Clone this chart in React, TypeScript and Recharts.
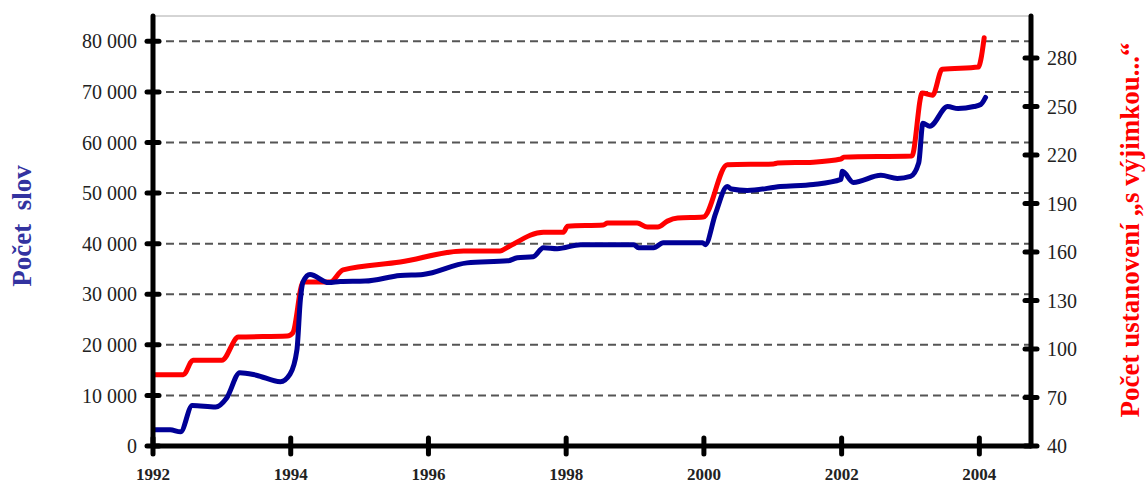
import React from 'react';
import { LineChart, Line, XAxis, YAxis, CartesianGrid, ReferenceLine } from 'recharts';

// Počet slov (left axis)
const wordYears = [
  1992.0, 1992.25, 1992.4, 1992.57, 1992.91, 1993.07, 1993.26, 1993.5, 1993.85, 1993.99,
  1994.09, 1994.14, 1994.18, 1994.28, 1994.55, 1994.72, 1995.08, 1995.59, 1995.92, 1996.56,
  1997.15, 1997.29, 1997.52, 1997.67, 1997.87, 1998.21, 1998.98, 1999.05, 1999.27, 1999.41,
  1999.98, 2000.02, 2000.17, 2000.34, 2000.4, 2000.63, 2001.11, 2001.59, 2001.99, 2002.01,
  2002.17, 2002.57, 2002.81, 2003.0, 2003.12, 2003.18, 2003.28, 2003.54, 2003.69, 2003.92,
  2004.02, 2004.09,
];
const wordCounts = [
  3200, 3200, 2800, 8000, 7700, 9500, 14500, 14000, 12700, 14200,
  19000, 28900, 32500, 33900, 32300, 32500, 32600, 33700, 33900, 36200,
  36600, 37200, 37400, 39200, 39000, 39800, 39800, 39200, 39200, 40200,
  40200, 39800, 46000, 51300, 50800, 50500, 51300, 51700, 52700, 54300,
  52100, 53500, 52900, 53300, 56000, 63800, 63200, 67100, 66700, 67100,
  67500, 68900,
];

// Počet ustanovení (right axis)
const provisionYears = [
  1992.0, 1992.44, 1992.58, 1993.0, 1993.24, 1993.95, 1994.03, 1994.18, 1994.57, 1994.76,
  1995.59, 1996.51, 1997.04, 1997.15, 1997.67, 1997.96, 1998.02, 1998.54, 1998.6, 1999.03,
  1999.18, 1999.33, 1999.47, 1999.62, 1999.99, 2000.34, 2001.01, 2001.07, 2001.59, 2001.99,
  2002.03, 2003.02, 2003.17, 2003.32, 2003.46, 2003.99, 2004.02, 2004.07,
];
const provisionCounts = [
  84, 84, 93, 93, 107.4, 108, 110, 141.4, 141.4, 149,
  153.8, 160.6, 160.6, 163, 172.3, 172.3, 176, 176.7, 177.9, 177.9,
  175.4, 175.4, 179.1, 181, 181.6, 214, 214.5, 215, 215.6, 217.5,
  218.7, 219.4, 258.3, 257, 273, 274.4, 278.7, 292.5,
];

const yearTicks = [1992, 1994, 1996, 1998, 2000, 2002, 2004];
const wordTicks = [0, 10000, 20000, 30000, 40000, 50000, 60000, 70000, 80000];
const provisionTicks = [40, 70, 100, 130, 160, 190, 220, 250, 280];

const table = Array.from(new Set([...wordYears, ...provisionYears]))
  .sort((a, b) => a - b)
  .map((year) => {
    const wi = wordYears.indexOf(year);
    const pi = provisionYears.indexOf(year);
    return {
      year,
      words: wi >= 0 ? wordCounts[wi] : null,
      provisions: pi >= 0 ? provisionCounts[pi] : null,
    };
  });

const serif = "'Liberation Serif', 'Times New Roman', serif";

const fmtThousands = (v: number) =>
  v === 0 ? '0' : `${Math.floor(v / 1000)} ${String(v % 1000).padStart(3, '0')}`;

const LeftTick = ({ x, y, payload }: any) => (
  <g>
    <line x1={x - 6} x2={x + 6} y1={y} y2={y} stroke="#000" strokeWidth={5} strokeLinecap="round" />
    <text x={x - 16} y={y} dy="0.36em" textAnchor="end" fontFamily={serif} fontSize={20} fill="#222">
      {fmtThousands(payload.value)}
    </text>
  </g>
);

const RightTick = ({ x, y, payload }: any) => (
  <g>
    <line x1={x - 6} x2={x + 6} y1={y} y2={y} stroke="#000" strokeWidth={5} strokeLinecap="round" />
    <text x={x + 16} y={y} dy="0.36em" textAnchor="start" fontFamily={serif} fontSize={20} fill="#222">
      {payload.value}
    </text>
  </g>
);

const BottomTick = ({ x, y, payload }: any) => (
  <g>
    <line x1={x} x2={x} y1={y - 8} y2={y + 8} stroke="#000" strokeWidth={5} strokeLinecap="round" />
    <text x={x} y={y + 34} textAnchor="middle" fontFamily={serif} fontSize={17} fontWeight="bold" fill="#222">
      {payload.value}
    </text>
  </g>
);

const AxisTitle = ({ viewBox, text, color, offsetX, offsetY, size }: any) => {
  const vb = viewBox || { x: 0, y: 0, width: 0, height: 0 };
  const cx = vb.x + offsetX;
  const cy = vb.y + vb.height / 2 + offsetY;
  return (
    <text
      x={cx}
      y={cy}
      transform={`rotate(-90, ${cx}, ${cy})`}
      textAnchor="middle"
      fontFamily={serif}
      fontWeight="bold"
      fontSize={size}
      fill={color}
      style={{ whiteSpace: 'pre' }}
    >
      {text}
    </text>
  );
};

export default function App() {
  return (
    <div style={{ position: 'absolute', left: 0, top: 0, width: 1146, height: 484, background: '#fff' }}>
      <LineChart width={1146} height={484} data={table} margin={{ top: 16, right: 0, bottom: 0, left: 0 }}>
        <CartesianGrid
          yAxisId="left"
          vertical={false}
          horizontalValues={wordTicks}
          stroke="#555"
          strokeWidth={2}
          strokeDasharray="8 5"
        />
        <XAxis
          dataKey="year"
          type="number"
          domain={[1992, 2004.75]}
          ticks={yearTicks}
          allowDataOverflow
          height={38}
          tickSize={0}
          tickMargin={0}
          tick={<BottomTick />}
          tickLine={false}
          axisLine={{ stroke: '#000', strokeWidth: 5 }}
        />
        <YAxis
          yAxisId="left"
          orientation="left"
          width={153}
          domain={[0, 85000]}
          ticks={wordTicks}
          allowDataOverflow
          tickSize={0}
          tickMargin={0}
          tick={<LeftTick />}
          tickLine={false}
          axisLine={{ stroke: '#000', strokeWidth: 5, strokeLinecap: 'round' }}
          label={<AxisTitle text={'Počet  slov'} color="#3333a0" offsetX={31} offsetY={-5} size={27} />}
        />
        <YAxis
          yAxisId="right"
          orientation="right"
          width={115}
          domain={[40, 306]}
          ticks={provisionTicks}
          allowDataOverflow
          tickSize={0}
          tickMargin={0}
          tick={<RightTick />}
          tickLine={false}
          axisLine={{ stroke: '#000', strokeWidth: 5, strokeLinecap: 'round' }}
          label={
            <AxisTitle
              text={'Počet ustanovení „s výjimkou...“'}
              color="#ff0000"
              offsetX={108}
              offsetY={-1}
              size={27}
            />
          }
        />
        <ReferenceLine yAxisId="left" y={85000} stroke="#aaa" strokeWidth={1} />
        <Line
          yAxisId="right"
          type="monotone"
          dataKey="provisions"
          stroke="#ff0000"
          strokeWidth={5}
          strokeLinecap="round"
          strokeLinejoin="round"
          dot={false}
          activeDot={false}
          connectNulls
          isAnimationActive={false}
        />
        <Line
          yAxisId="left"
          type="monotone"
          dataKey="words"
          stroke="#000096"
          strokeWidth={5}
          strokeLinecap="round"
          strokeLinejoin="round"
          dot={false}
          activeDot={false}
          connectNulls
          isAnimationActive={false}
        />
      </LineChart>
    </div>
  );
}
